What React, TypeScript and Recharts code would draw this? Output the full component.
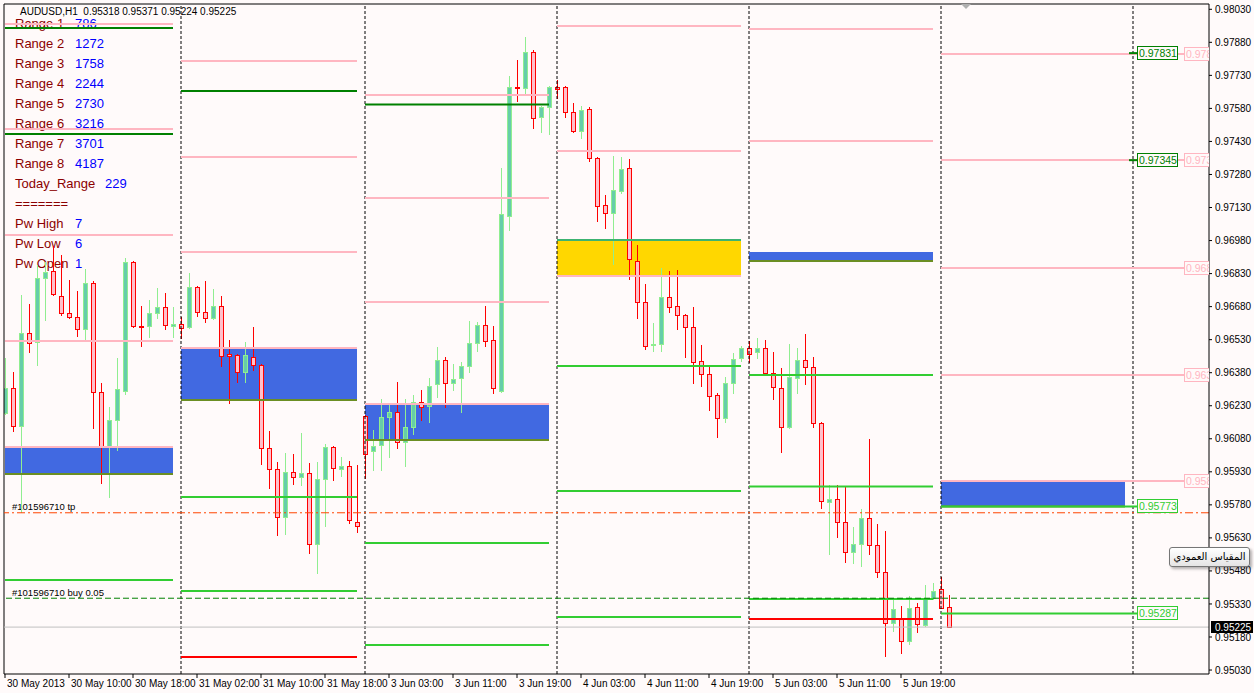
import React from "react";
import { ComposedChart, Bar, XAxis, YAxis, ReferenceLine, ReferenceArea, ReferenceDot } from "recharts";

const FONT = '"Liberation Sans", Arial, sans-serif';
const BG = "#fffafa";

// hourly AUDUSD candles, [open, high, low, close]
const may30 = [
  [0.96197, 0.96447, 0.96192, 0.9631], [0.9631, 0.96383, 0.96115, 0.96138], [0.96138, 0.96733, 0.95747, 0.9656],
  [0.9656, 0.96692, 0.96474, 0.96515], [0.96519, 0.96869, 0.96415, 0.9681], [0.9681, 0.96882, 0.96619, 0.96837],
  [0.96842, 0.96955, 0.96733, 0.96737], [0.96728, 0.96914, 0.96642, 0.96651], [0.96651, 0.96801, 0.96628, 0.96633],
  [0.96633, 0.96751, 0.96547, 0.96578], [0.96578, 0.96851, 0.96528, 0.96787], [0.96787, 0.96796, 0.96129, 0.96292],
  [0.96292, 0.96333, 0.95879, 0.96043], [0.96043, 0.96224, 0.95816, 0.96165], [0.96165, 0.96447, 0.96029, 0.96306],
  [0.96297, 0.96901, 0.96283, 0.96882], [0.96882, 0.96887, 0.96587, 0.96592], [0.96594, 0.96683, 0.96501, 0.9659],
  [0.96592, 0.9671, 0.96542, 0.96651], [0.96651, 0.96764, 0.96628, 0.96678], [0.96678, 0.96742, 0.96578, 0.96596],
  [0.96594, 0.96678, 0.96542, 0.96599],
];
const may31 = [
  [0.96601, 0.96633, 0.96537, 0.96583], [0.96587, 0.96833, 0.96583, 0.96769], [0.96769, 0.96774, 0.96637, 0.96655],
  [0.96655, 0.96796, 0.9661, 0.96628], [0.96628, 0.9676, 0.96624, 0.96683], [0.96683, 0.96728, 0.9641, 0.96456],
  [0.96463, 0.96528, 0.96242, 0.96458], [0.9646, 0.96465, 0.96338, 0.96383], [0.96383, 0.96519, 0.96338, 0.9646],
  [0.96451, 0.96587, 0.96392, 0.96415], [0.96415, 0.96419, 0.95965, 0.96038], [0.96038, 0.96115, 0.95857, 0.95943],
  [0.95943, 0.95974, 0.95643, 0.95725], [0.95725, 0.96015, 0.95648, 0.95929], [0.95929, 0.96011, 0.95875, 0.95906],
  [0.95906, 0.96106, 0.9587, 0.95925], [0.95925, 0.9597, 0.95561, 0.95602], [0.95602, 0.95974, 0.95471, 0.95897],
  [0.95897, 0.96056, 0.95684, 0.96043], [0.96043, 0.96047, 0.95893, 0.95947], [0.95943, 0.95997, 0.95911, 0.95956],
  [0.95956, 0.95979, 0.95698, 0.95711], [0.95702, 0.95961, 0.95657, 0.95684],
];
const jun3 = [
  [0.96183, 0.96188, 0.95902, 0.96011], [0.96025, 0.9612, 0.95938, 0.96047], [0.96052, 0.96261, 0.95938, 0.96179],
  [0.96179, 0.96242, 0.95997, 0.96202], [0.96202, 0.96338, 0.96038, 0.96065], [0.96065, 0.96261, 0.95956, 0.96133],
  [0.96133, 0.96279, 0.96102, 0.96247], [0.96247, 0.96301, 0.96165, 0.96224], [0.96229, 0.96356, 0.96156, 0.9632],
  [0.96329, 0.96497, 0.9627, 0.96438], [0.96438, 0.96451, 0.96224, 0.96333], [0.96333, 0.96419, 0.96301, 0.96351],
  [0.96356, 0.96429, 0.96202, 0.9641], [0.9641, 0.96615, 0.96383, 0.96515], [0.96515, 0.9661, 0.96479, 0.96596],
  [0.96596, 0.96683, 0.96501, 0.96524], [0.96528, 0.96592, 0.96288, 0.9631], [0.96297, 0.97309, 0.96292, 0.971],
  [0.97091, 0.97727, 0.97028, 0.97677], [0.97679, 0.978, 0.97614, 0.97675], [0.97672, 0.97904, 0.97641, 0.97836],
  [0.97836, 0.97845, 0.97491, 0.97536], [0.97541, 0.97591, 0.97473, 0.97586], [0.97586, 0.97682, 0.97464, 0.97677],
];
const jun4 = [
  [0.97675, 0.97709, 0.97627, 0.9767], [0.97677, 0.97682, 0.97541, 0.97564], [0.97564, 0.97604, 0.97473, 0.97477],
  [0.97477, 0.97591, 0.97446, 0.97573], [0.97577, 0.97586, 0.97341, 0.97355], [0.97355, 0.97359, 0.97069, 0.97137],
  [0.97141, 0.97187, 0.97037, 0.97105], [0.97105, 0.97364, 0.96873, 0.97209], [0.97205, 0.97359, 0.97196, 0.97305],
  [0.97309, 0.9735, 0.96805, 0.96896], [0.96887, 0.9696, 0.96628, 0.96701], [0.96701, 0.96783, 0.96487, 0.96501],
  [0.96506, 0.96606, 0.96479, 0.9651], [0.9651, 0.96855, 0.96479, 0.96724], [0.96724, 0.96842, 0.96655, 0.96678],
  [0.96683, 0.96846, 0.96578, 0.96642], [0.96642, 0.96646, 0.96451, 0.96587], [0.96587, 0.96678, 0.96333, 0.96429],
  [0.96433, 0.96506, 0.9632, 0.96374], [0.96374, 0.96406, 0.96211, 0.96274], [0.96279, 0.96288, 0.96088, 0.96174],
  [0.96174, 0.9636, 0.96156, 0.96333], [0.96333, 0.96469, 0.96288, 0.96442], [0.96447, 0.96501, 0.96433, 0.96492],
];
const jun5 = [
  [0.96492, 0.96524, 0.96429, 0.96465], [0.96474, 0.96537, 0.96447, 0.96492], [0.96492, 0.96528, 0.96374, 0.96379],
  [0.96379, 0.96474, 0.96261, 0.96315], [0.9631, 0.96401, 0.9602, 0.96133], [0.96133, 0.9651, 0.96129, 0.9636],
  [0.96356, 0.96492, 0.96288, 0.96438], [0.96438, 0.96556, 0.96329, 0.96406], [0.96406, 0.96451, 0.96133, 0.96152],
  [0.96152, 0.96156, 0.95766, 0.95797], [0.95793, 0.9587, 0.95557, 0.95806], [0.95806, 0.9587, 0.95634, 0.95702],
  [0.95702, 0.95866, 0.9552, 0.95566], [0.95566, 0.95679, 0.95516, 0.95602], [0.95602, 0.95761, 0.95502, 0.9572],
  [0.9572, 0.96079, 0.95557, 0.95598], [0.95598, 0.95693, 0.95452, 0.95475], [0.95475, 0.95661, 0.95094, 0.95244],
  [0.95244, 0.95352, 0.95207, 0.95307], [0.95266, 0.95321, 0.95107, 0.95162], [0.95162, 0.95366, 0.95148, 0.95312],
  [0.95316, 0.95334, 0.95203, 0.95239], [0.95235, 0.95416, 0.9523, 0.95357], [0.95357, 0.95425, 0.95352, 0.95389],
];
const jun6 = [
  [0.95398, 0.95452, 0.9531, 0.95312], [0.95318, 0.95371, 0.95224, 0.95225],
];

const candles = [may30, may31, jun3, jun4, jun5, jun6].flat().map(([o, h, l, c], i) => ({ i, o, h, l, c }));

const xTickIdx = [0, 8, 16, 24, 32, 40, 48, 56, 64, 72, 80, 88, 96, 104, 112];
const xTickLabels = [
  "30 May 2013", "30 May 10:00", "30 May 18:00", "31 May 02:00", "31 May 10:00", "31 May 18:00",
  "3 Jun 03:00", "3 Jun 11:00", "3 Jun 19:00", "4 Jun 03:00", "4 Jun 11:00", "4 Jun 19:00",
  "5 Jun 03:00", "5 Jun 11:00", "5 Jun 19:00",
];
const yTicks = [
  0.9803, 0.9788, 0.9773, 0.9758, 0.9743, 0.9728, 0.9713, 0.9698, 0.9683, 0.9668, 0.9653,
  0.9638, 0.9623, 0.9608, 0.9593, 0.9578, 0.9563, 0.9548, 0.9533, 0.9518, 0.9503,
];

// day separators and per-day level spans (bar index)
const separators = [22, 45, 69, 93, 117, 141];
const dayStart = [0, 22, 45, 69, 93, 117];
const dayEnd = [21, 44, 68, 92, 116, 140];

const pinkLevels = [
  [0.97963, 0.97486, 0.97005, 0.96524],
  [0.97795, 0.97359, 0.96928],
  [0.97641, 0.97173, 0.96701],
  [0.97954, 0.97387],
  [0.9794, 0.97432],
  [0.97827, 0.97346, 0.96855, 0.9637, 0.95888],
];
const darkGreenLevels = [[0.97945, 0.97464], [0.97659], [0.97598], [], [], []];
const greenLevels = [
  [0.95439],
  [0.95816, 0.95389],
  [0.95607, 0.95144],
  [0.9641, 0.95843, 0.95271],
  [0.9637, 0.95863, 0.95352],
  [0.95773, 0.95287],
];
const redLevels = [[], [0.95089], [], [], [0.95262], []];
const zoneTop = [0.96043, 0.96492, 0.96238, 0.96982, 0.96923, 0.95888];
const zoneBottom = [0.9592, 0.96256, 0.96074, 0.96819, 0.96887, 0.95773];

const tpPrice = 0.95744;
const buyPrice = 0.95356;
const bidPrice = 0.95225;

const darkTags = [0.97831, 0.97345];
const limeTags = [0.95773, 0.95287];
const pinkTags = [0.97827, 0.97346, 0.96855, 0.9637, 0.95888];

const panelLabels = ["Range 1", "Range 2", "Range 3", "Range 4", "Range 5", "Range 6", "Range 7", "Range 8", "Today_Range", "=======", "Pw High", "Pw Low", "Pw Open"];
const panelValues = ["786", "1272", "1758", "2244", "2730", "3216", "3701", "4187", "229", "", "7", "6", "1"];

const Candle = (props: any) => {
  const { x, y, width, height, payload } = props;
  const { o, h, l, c } = payload;
  const col = Math.round(x + width / 2);
  const top = Math.min(y, y + height);
  const hh = Math.abs(height);
  const span = h - l;
  const py = (p: number) => (span > 0 ? top + ((h - p) / span) * hh : top);
  const up = c >= o;
  const b1 = Math.round(py(Math.max(o, c)));
  const b2 = Math.round(py(Math.min(o, c)));
  return (
    <g>
      <line x1={col + 0.5} x2={col + 0.5} y1={Math.round(top)} y2={Math.round(top + hh) + 1} stroke={up ? "#90ee90" : "#ff0000"} />
      <rect x={col - 1.5} y={b1 + 0.5} width={4} height={Math.max(1, b2 - b1)} fill={up ? "#66cdaa" : "#ffc0cb"} stroke={up ? "#90ee90" : "#ff0000"} />
    </g>
  );
};

// price tag box; clipW limits the visible width (pink tags are cut by the price scale)
const tag = (text: string, color: string, clipW = 42) => (props: any) => {
  const cx = Math.round(props.cx);
  const cy = Math.round(props.cy);
  return (
    <svg x={cx} y={cy - 7} width={clipW} height={15} overflow="hidden">
      <rect x={0.5} y={0.5} width={40} height={13} fill={BG} stroke={color} />
      <text x={2} y={11} fontSize={10.5} fontFamily={FONT} fill={color}>{text}</text>
    </svg>
  );
};

const bidLabel = (props: any) => {
  const cx = Math.round(props.cx);
  const cy = Math.round(props.cy);
  return (
    <g>
      <rect x={cx + 2} y={cy - 6} width={42} height={12} fill="#000" />
      <text x={cx + 6} y={cy + 4} fontSize={10} fontFamily={FONT} fill="#fff">{bidPrice.toFixed(5)}</text>
    </g>
  );
};

const shiftMark = (props: any) => {
  const cx = Math.round(props.cx);
  const cy = Math.round(props.cy);
  return <polygon points={`${cx - 5},${cy} ${cx + 5},${cy} ${cx},${cy + 5}`} fill="#b0b0b0" />;
};

const XTick = (props: any) => {
  const { x, y, payload } = props;
  const k = xTickIdx.indexOf(payload.value);
  return (
    <text x={x + 2} y={y} dy="0.71em" textAnchor="start" fontSize={10} fontFamily={FONT} fill="#000">
      {xTickLabels[k]}
    </text>
  );
};

export default function App() {
  const seg = (a: number, b: number, p: number) => [{ x: a, y: p }, { x: b, y: p }];
  return (
    <div style={{ position: "fixed", left: 0, top: 0, width: 1254, height: 693, background: BG, overflow: "hidden" }}>
      {/* indicator text panel, drawn under the chart */}
      <div style={{ position: "absolute", left: 20, top: 6, fontFamily: FONT, fontSize: 10, color: "#000", whiteSpace: "pre" }}>
        AUDUSD,H1  0.95318 0.95371 0.95224 0.95225
      </div>
      {panelLabels.map((lab, k) => (
        <div key={lab} style={{ position: "absolute", left: 15, top: 16 + 20 * k, fontFamily: FONT, fontSize: 13, lineHeight: "16px", whiteSpace: "pre" }}>
          <span style={{ color: "#8b0000" }}>{lab}</span>
          <span style={{ position: "absolute", left: lab.length > 8 ? 90 : 60, color: "#0000ff" }}>{panelValues[k]}</span>
        </div>
      ))}
      <div style={{ position: "absolute", left: 12, top: 501, fontFamily: FONT, fontSize: 9.5, color: "#000", whiteSpace: "pre" }}>#101596710 tp</div>
      <div style={{ position: "absolute", left: 12, top: 587, fontFamily: FONT, fontSize: 9.5, color: "#000", whiteSpace: "pre" }}>#101596710 buy 0.05</div>

      <div style={{ position: "absolute", left: 0, top: 0 }}>
        <ComposedChart width={1254} height={693} data={candles} margin={{ top: 4, right: 0, bottom: 0, left: 4 }}>
          <XAxis
            dataKey="i"
            type="number"
            domain={[-0.125, 150.5]}
            allowDataOverflow
            ticks={xTickIdx}
            interval={0}
            height={19}
            tickSize={4}
            tickMargin={2}
            tick={<XTick />}
            axisLine={{ stroke: "#000" }}
            tickLine={{ stroke: "#000" }}
          />
          <YAxis
            orientation="right"
            type="number"
            domain={[0.95012, 0.98054]}
            allowDataOverflow
            ticks={yTicks}
            interval={0}
            width={45}
            tickSize={3}
            tickMargin={3}
            tickFormatter={(v: number) => v.toFixed(5)}
            tick={{ fill: "#000", fontSize: 10, fontFamily: FONT }}
            axisLine={{ stroke: "#000" }}
            tickLine={{ stroke: "#000" }}
          />

          {zoneTop.map((t, d) => (
            <ReferenceArea key={`z${d}`} x1={dayStart[d]} x2={dayEnd[d]} y1={zoneBottom[d]} y2={t}
              fill={d === 3 ? "#ffd700" : "#4169e1"} fillOpacity={1} stroke="none" />
          ))}

          <Bar dataKey={(d: any) => [d.l, d.h]} barSize={5} shape={<Candle />} isAnimationActive={false} />

          <ReferenceLine y={0.98054} stroke="#000" />
          <ReferenceLine x={-0.125} stroke="#000" />
          {separators.map((s) => (
            <ReferenceLine key={`s${s}`} x={s} stroke="#000" strokeDasharray="3 2" />
          ))}

          {zoneTop.map((t, d) => (
            <ReferenceLine key={`zt${d}`} segment={seg(dayStart[d], dayEnd[d], t)}
              stroke={d === 3 ? "#3cb371" : d === 4 ? "#4169e1" : "#ffb6c1"} strokeWidth={2} />
          ))}
          {zoneBottom.map((b, d) => (
            <ReferenceLine key={`zb${d}`} segment={seg(dayStart[d], dayEnd[d], b)}
              stroke={d === 3 ? "#ffb6c1" : "#6b8e23"} strokeWidth={2} />
          ))}

          {pinkLevels.map((lv, d) => lv.map((p, k) => (
            <ReferenceLine key={`p${d}-${k}`} segment={seg(dayStart[d], d === 5 ? 147.4 : dayEnd[d], p)} stroke="#ffb6c1" strokeWidth={2} />
          )))}
          {darkGreenLevels.map((lv, d) => lv.map((p, k) => (
            <ReferenceLine key={`g${d}-${k}`} segment={seg(dayStart[d], dayEnd[d], p)} stroke="#008000" strokeWidth={2} />
          )))}
          {greenLevels.map((lv, d) => lv.map((p, k) => (
            <ReferenceLine key={`l${d}-${k}`} segment={seg(dayStart[d], d === 5 ? 141.5 : dayEnd[d], p)} stroke="#32cd32" strokeWidth={2} />
          )))}
          {redLevels.map((lv, d) => lv.map((p, k) => (
            <ReferenceLine key={`r${d}-${k}`} segment={seg(dayStart[d], dayEnd[d], p)} stroke="#ff0000" strokeWidth={2} />
          )))}
          {darkTags.map((p) => (
            <ReferenceLine key={`ds${p}`} segment={seg(140.5, 141.5, p)} stroke="#008000" strokeWidth={2} />
          ))}

          <ReferenceLine y={bidPrice} stroke="#c0c0c0" />
          <ReferenceLine y={tpPrice} stroke="#ff4500" strokeDasharray="8 3 2 3" />
          <ReferenceLine y={buyPrice} stroke="#008000" strokeDasharray="6 3" />

          {pinkTags.map((p) => (
            <ReferenceDot key={`pt${p}`} x={147.4} y={p} ifOverflow="visible" shape={tag(p.toFixed(5).slice(0, 5), "#ffb6c1", 25)} />
          ))}
          {darkTags.map((p) => (
            <ReferenceDot key={`dt${p}`} x={141.5} y={p} ifOverflow="visible" shape={tag(p.toFixed(5), "#008000")} />
          ))}
          {limeTags.map((p) => (
            <ReferenceDot key={`lt${p}`} x={141.5} y={p} ifOverflow="visible" shape={tag(p.toFixed(5), "#32cd32")} />
          ))}
          <ReferenceDot x={150.5} y={bidPrice} ifOverflow="visible" shape={bidLabel} />
          <ReferenceDot x={120.1} y={0.98054} ifOverflow="visible" shape={shiftMark} />
        </ComposedChart>
      </div>

      <div style={{
        position: "absolute", left: 1169, top: 547, width: 79, height: 18, border: "1px solid #767676", borderRadius: 3,
        background: "linear-gradient(#ffffff, #e4e4e4)", boxShadow: "2px 2px 3px rgba(0,0,0,0.3)",
        fontFamily: '"DejaVu Sans", sans-serif', fontSize: 10, lineHeight: "18px", textAlign: "center", direction: "rtl", color: "#000",
      }}>
        المقياس العمودي
      </div>
    </div>
  );
}
